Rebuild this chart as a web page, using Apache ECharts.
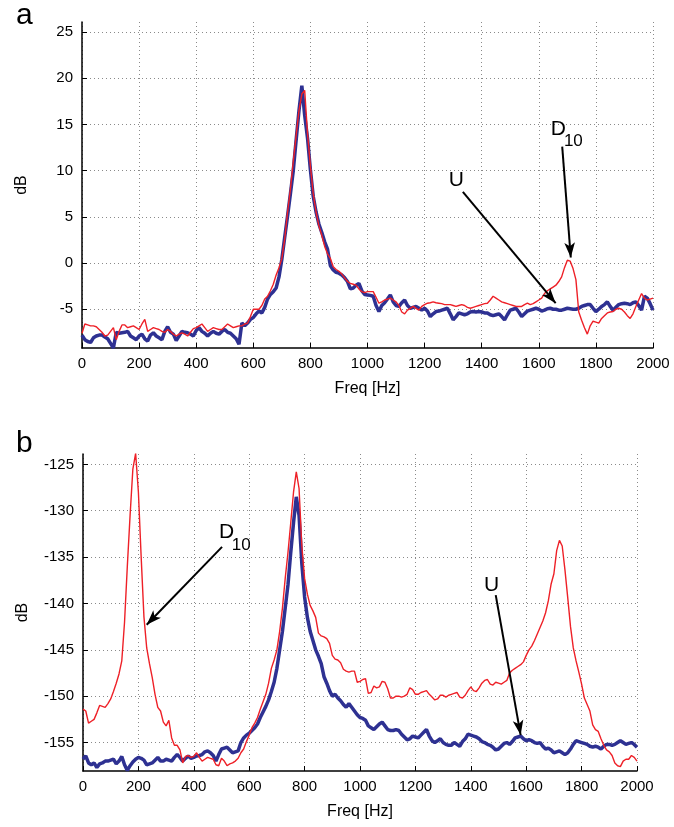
<!DOCTYPE html>
<html><head><meta charset="utf-8">
<script src="https://cdn.jsdelivr.net/npm/echarts@6/dist/echarts.min.js"></script>
<style>html,body{margin:0;padding:0;background:#fff}#c{width:674px;height:827px}</style>
</head><body><div id="c"></div>
<script>
// frequency sampling (Hz), 10 Hz steps from 0 to 2000
const freqs = [];
for (let f = 0; f <= 2000; f += 10) freqs.push(f);
const xTicks = [0,200,400,600,800,1000,1200,1400,1600,1800,2000];
const aYTicks = [-5,0,5,10,15,20,25];
const bYTicks = [-155,-150,-145,-140,-135,-130,-125];

// Panel a, U (blue)
const aBlue = [-7.8,-8.3,-8.5,-8.6,-8.1,-7.9,-7.8,-7.8,-8.0,-8.2,-8.7,-9.2,-7.5,-7.6,-7.55,-7.5,-7.4,-7.9,-8.1,-8.3,
-7.9,-7.7,-8.2,-8.45,-7.8,-7.55,-7.9,-8.1,-8.3,-7.4,-6.9,-7.5,-7.7,-8.4,-7.9,-7.4,-7.5,-7.55,-7.7,-7.9,
-7.3,-7.0,-7.4,-7.6,-7.9,-7.6,-7.4,-7.6,-7.7,-7.4,-7.2,-7.5,-7.6,-7.9,-8.2,-8.8,-6.5,-6.8,-6.5,-6.1,
-5.9,-5.5,-5.2,-5.4,-4.8,-3.9,-3.4,-3.1,-2.7,-1.5,0.4,2.8,5.1,7.5,10.0,13.3,16.5,19.2,16.0,13.5,
10.1,7.2,5.5,4.2,3.3,2.3,1.5,-0.3,-0.75,-1.0,-1.1,-1.3,-1.6,-2.0,-2.8,-2.7,-2.4,-2.2,-3.0,-3.4,
-3.45,-3.5,-3.6,-4.6,-5.25,-4.6,-4.3,-3.9,-3.45,-4.2,-4.6,-4.7,-4.3,-4.0,-4.6,-4.9,-4.8,-4.7,-4.9,-5.1,
-4.9,-5.2,-5.8,-5.5,-5.25,-5.2,-5.1,-5.0,-4.9,-5.5,-6.15,-5.8,-5.4,-5.5,-5.6,-5.5,-5.3,-5.25,-5.3,-5.25,
-5.3,-5.4,-5.4,-5.6,-5.7,-5.6,-5.5,-5.8,-6.15,-5.6,-5.1,-5.0,-4.9,-5.3,-5.8,-5.5,-5.2,-5.1,-5.0,-4.9,
-5.0,-5.2,-5.1,-4.95,-4.9,-5.0,-5.0,-5.1,-5.1,-5.0,-4.9,-4.95,-5.0,-5.0,-4.9,-4.7,-4.6,-4.5,-4.5,-4.9,
-5.25,-5.0,-4.7,-4.5,-4.2,-4.7,-5.1,-4.8,-4.5,-4.4,-4.35,-4.4,-4.5,-4.3,-4.2,-4.6,-5.1,-3.6,-3.8,-4.4,-5.1];
// Panel a, D10 (red)
const aRed = [-7.6,-6.6,-6.7,-6.8,-6.8,-6.9,-7.2,-7.5,-7.9,-7.8,-7.4,-7.0,-8.3,-7.4,-6.7,-6.7,-7.0,-6.9,-6.8,-7.0,
-7.2,-6.6,-6.1,-7.4,-7.2,-7.0,-7.1,-7.2,-7.4,-7.5,-7.2,-7.4,-7.7,-7.9,-7.7,-7.55,-7.7,-7.9,-7.5,-7.1,
-7.0,-6.8,-6.6,-7.0,-7.4,-7.2,-7.0,-7.1,-7.2,-7.2,-6.9,-6.6,-6.8,-7.0,-6.9,-6.8,-6.8,-6.6,-6.5,-5.8,
-5.0,-5.0,-5.0,-4.6,-3.9,-3.6,-3.0,-2.3,-1.3,-0.5,0.5,2.6,5.5,8.0,11.0,13.8,16.5,18.3,18.7,14.0,
10.5,7.5,5.5,4.0,3.0,1.8,1.0,0.5,-0.4,-0.7,-0.9,-1.2,-1.6,-2.0,-2.2,-2.3,-2.4,-2.8,-3.1,-3.2,
-3.1,-3.1,-3.1,-3.7,-4.35,-4.2,-4.0,-3.9,-3.8,-4.0,-4.2,-4.6,-5.3,-5.5,-5.1,-4.9,-4.7,-4.9,-5.1,-4.7,
-4.5,-4.35,-4.3,-4.2,-4.3,-4.35,-4.4,-4.5,-4.5,-4.5,-4.6,-4.7,-4.6,-4.5,-4.6,-4.8,-4.9,-4.8,-4.7,-4.6,
-4.5,-4.4,-4.35,-4.0,-3.6,-3.8,-4.0,-4.2,-4.3,-4.4,-4.5,-4.6,-4.7,-4.7,-4.7,-4.5,-4.35,-4.5,-4.4,-4.2,
-4.0,-3.8,-3.3,-3.0,-2.8,-2.6,-2.4,-2.0,-1.5,-0.5,0.3,0.2,-0.6,-1.8,-5.3,-6.2,-7.0,-7.7,-6.8,-6.3,
-6.4,-6.5,-6.0,-5.7,-5.4,-5.3,-5.25,-5.0,-4.9,-5.0,-5.3,-5.7,-6.0,-5.5,-4.7,-4.0,-3.3,-3.8,-4.0,-3.9,-3.8];
// Panel b, D10 (red)
const bRed = [-151.4,-151.6,-152.9,-152.7,-152.5,-151.8,-151.0,-151.1,-151.2,-150.8,-150.3,-149.5,-148.6,-147.6,-146.2,-142.0,-136.0,-130.5,-125.5,-123.8,
-128.0,-135.0,-141.45,-144.8,-146.5,-148.0,-149.8,-151.2,-151.6,-152.8,-153.2,-152.6,-154.5,-155.3,-155.3,-155.8,-157.2,-156.5,-156.4,-156.6,
-156.5,-156.1,-156.6,-157.0,-156.8,-156.6,-156.7,-156.8,-157.4,-157.5,-156.7,-157.0,-157.5,-157.3,-157.2,-157.0,-156.7,-156.1,-155.7,-154.9,
-154.2,-153.4,-152.9,-152.3,-151.4,-150.6,-149.8,-148.6,-147.0,-146.1,-145.0,-143.0,-140.5,-137.3,-134.5,-131.3,-128.0,-125.8,-127.6,-133.8,
-137.3,-139.0,-140.2,-140.8,-141.5,-143.2,-143.5,-143.6,-143.8,-144.3,-145.6,-146.0,-146.1,-146.4,-147.1,-147.3,-147.4,-147.3,-147.3,-148.5,
-148.4,-148.2,-148.1,-149.7,-149.6,-148.9,-149.1,-149.0,-148.4,-148.5,-149.2,-150.2,-150.2,-150.0,-150.0,-150.1,-150.0,-149.8,-149.1,-149.3,
-149.8,-149.8,-149.6,-149.5,-149.4,-149.8,-150.1,-150.4,-150.3,-149.9,-149.9,-150.1,-149.9,-149.8,-149.7,-149.6,-150.1,-150.2,-149.9,-149.4,
-149.0,-149.4,-149.5,-149.1,-148.6,-148.3,-148.2,-148.7,-148.8,-148.5,-148.6,-148.7,-148.5,-148.3,-147.5,-147.2,-147.0,-146.8,-146.6,-146.3,
-145.6,-145.0,-144.6,-144.0,-143.3,-142.6,-141.9,-141.0,-139.7,-137.9,-136.8,-134.3,-133.2,-133.8,-136.4,-139.4,-142.5,-144.8,-146.2,-147.4,
-148.7,-150.2,-150.9,-151.6,-153.1,-153.6,-153.8,-154.6,-155.3,-155.8,-156.0,-156.4,-157.2,-157.5,-157.6,-157.0,-156.8,-156.8,-156.4,-156.6,-157.0];
// Panel b, U (blue)
const bBlue = [-156.8,-156.45,-157.2,-157.4,-157.2,-157.7,-157.3,-157.2,-157.0,-157.0,-156.9,-156.8,-157.3,-157.0,-156.5,-157.4,-158.0,-157.5,-157.1,-156.8,
-156.6,-156.7,-156.9,-157.4,-157.3,-157.2,-156.9,-156.6,-157.0,-157.0,-156.8,-156.9,-157.0,-156.6,-156.3,-156.6,-157.0,-156.7,-156.45,-156.7,
-156.6,-156.45,-156.4,-156.3,-156.0,-155.9,-156.1,-156.4,-157.0,-156.3,-155.7,-155.6,-155.5,-155.8,-156.1,-156.0,-155.9,-155.0,-154.5,-154.2,
-154.0,-153.7,-153.4,-153.0,-152.3,-151.7,-151.1,-150.4,-149.5,-148.5,-147.0,-145.0,-143.0,-140.5,-138.0,-134.5,-131.3,-128.5,-130.5,-135.7,
-139.3,-141.5,-143.0,-144.0,-145.0,-145.7,-146.5,-147.9,-148.6,-149.4,-150.0,-149.8,-150.2,-150.5,-150.9,-151.2,-150.8,-151.2,-151.6,-152.0,
-152.3,-152.4,-152.6,-153.2,-153.4,-153.6,-153.3,-153.0,-152.8,-153.2,-153.6,-153.7,-153.7,-153.6,-153.7,-154.1,-154.4,-154.7,-154.6,-154.3,
-154.4,-154.5,-154.2,-153.9,-153.6,-154.3,-154.8,-155.0,-154.8,-154.6,-155.0,-155.2,-155.3,-155.3,-155.0,-155.2,-155.4,-154.9,-154.6,-154.1,
-154.2,-154.3,-154.4,-154.6,-154.9,-155.0,-155.2,-155.3,-155.5,-155.8,-155.7,-155.4,-155.1,-155.0,-155.2,-154.9,-154.5,-154.4,-154.3,-154.6,
-154.8,-154.7,-154.8,-155.0,-155.1,-155.0,-155.4,-155.7,-155.6,-155.8,-156.1,-156.0,-155.9,-156.1,-156.3,-156.1,-155.7,-155.2,-154.8,-154.9,
-155.0,-155.1,-155.2,-155.4,-155.5,-155.4,-155.5,-155.7,-155.4,-155.2,-155.2,-155.3,-155.2,-155.0,-154.8,-155.0,-155.2,-155.1,-155.0,-155.2,-155.5];

// annotations: arrows [[freq, dB] start, [freq, dB] tip]; labels [text, freq, dB, size]
const aArrowU = [[1334, 7.7], [1659, -4.35]];
const aArrowD = [[1682, 12.6], [1712, 0.6]];
const bArrowD = [[502, -133.9], [230, -142.3]];
const bArrowU = [[1490, -139.1], [1580, -154.2]];
const aLabels = [['U', 1311, 9.0, 21], ['D', 1668, 14.5, 21], ['10', 1721, 13.2, 17]];
const bLabels = [['U', 1475, -138.0, 21], ['D', 518, -132.3, 21], ['10', 571, -133.7, 17]];

const pair = arr => freqs.map((f, i) => [f, arr[i]]);
const FONT = "'Liberation Sans', Arial, sans-serif";
const RED = '#ee2027', BLUE = '#2e3192';

function xAx(gi) {
  return {
    gridIndex: gi, type: 'value', min: 0, max: 2000, interval: 200,
    name: 'Freq [Hz]', nameLocation: 'middle', nameGap: 33,
    nameTextStyle: { fontFamily: FONT, fontSize: 16, color: '#000' },
    axisLine: { onZero: false, lineStyle: { color: '#000', width: 1.5 } },
    axisTick: { inside: true, length: 5, customValues: xTicks, lineStyle: { color: '#000' } },
    axisLabel: { fontFamily: FONT, fontSize: 15, color: '#000', margin: 8,
                 customValues: xTicks, formatter: v => String(v) },
    splitLine: { show: true, lineStyle: { color: '#8a8a8a', type: [1, 3], width: 1 } }
  };
}
function yAx(gi, min, max, ticks) {
  return {
    gridIndex: gi, type: 'value', min: min, max: max,
    name: 'dB', nameLocation: 'middle', nameGap: 52, nameRotate: 90,
    nameTextStyle: { fontFamily: FONT, fontSize: 16, color: '#000' },
    axisLine: { show: true, onZero: false, lineStyle: { color: '#000', width: 1.5 } },
    axisTick: { inside: true, length: 5, customValues: ticks, lineStyle: { color: '#000' } },
    axisLabel: { fontFamily: FONT, fontSize: 15, color: '#000', margin: 9, customValues: ticks },
    splitLine: { show: true, lineStyle: { color: '#8a8a8a', type: [1, 3], width: 1 } }
  };
}
function arrowLine(arrs) {
  return {
    silent: true, animation: false, symbol: ['none', 'arrow'], symbolSize: [8, 15],
    label: { show: false },
    lineStyle: { color: '#000', width: 2, type: 'solid' },
    data: arrs.map(a => [{ coord: a[0] }, { coord: a[1] }])
  };
}
function labelPts(list) {
  return {
    silent: true, animation: false, symbol: 'circle', symbolSize: 0,
    data: list.map(l => ({
      coord: [l[1], l[2]], value: l[0],
      label: { show: true, position: 'inside', formatter: l[0], color: '#000',
               fontFamily: FONT, fontSize: l[3] }
    }))
  };
}

const chart = echarts.init(document.getElementById('c'), null, { renderer: 'canvas' });
chart.setOption({
  animation: false,
  backgroundColor: '#fff',
  title: [
    { text: 'a', left: 11, top: -4, textStyle: { fontFamily: FONT, fontSize: 30, fontWeight: 'normal', color: '#000' } },
    { text: 'b', left: 11, top: 424, textStyle: { fontFamily: FONT, fontSize: 30, fontWeight: 'normal', color: '#000' } }
  ],
  grid: [
    { left: 82, top: 22, width: 571, height: 326 },
    { left: 83, top: 454, width: 554, height: 317 }
  ],
  xAxis: [xAx(0), xAx(1)],
  yAxis: [yAx(0, -9.2, 26.1, aYTicks), yAx(1, -158.07, -123.88, bYTicks)],
  series: [
    { type: 'line', xAxisIndex: 0, yAxisIndex: 0, data: pair(aBlue), showSymbol: false,
      lineStyle: { color: BLUE, width: 3.5 }, itemStyle: { color: BLUE }, z: 2 },
    { type: 'line', xAxisIndex: 0, yAxisIndex: 0, data: pair(aRed), showSymbol: false,
      lineStyle: { color: RED, width: 1.4 }, itemStyle: { color: RED }, z: 3,
      markLine: arrowLine([aArrowU, aArrowD]), markPoint: labelPts(aLabels) },
    { type: 'line', xAxisIndex: 1, yAxisIndex: 1, data: pair(bBlue), showSymbol: false,
      lineStyle: { color: BLUE, width: 3.5 }, itemStyle: { color: BLUE }, z: 2 },
    { type: 'line', xAxisIndex: 1, yAxisIndex: 1, data: pair(bRed), showSymbol: false,
      lineStyle: { color: RED, width: 1.4 }, itemStyle: { color: RED }, z: 3,
      markLine: arrowLine([bArrowD, bArrowU]), markPoint: labelPts(bLabels) }
  ]
});
</script></body></html>
